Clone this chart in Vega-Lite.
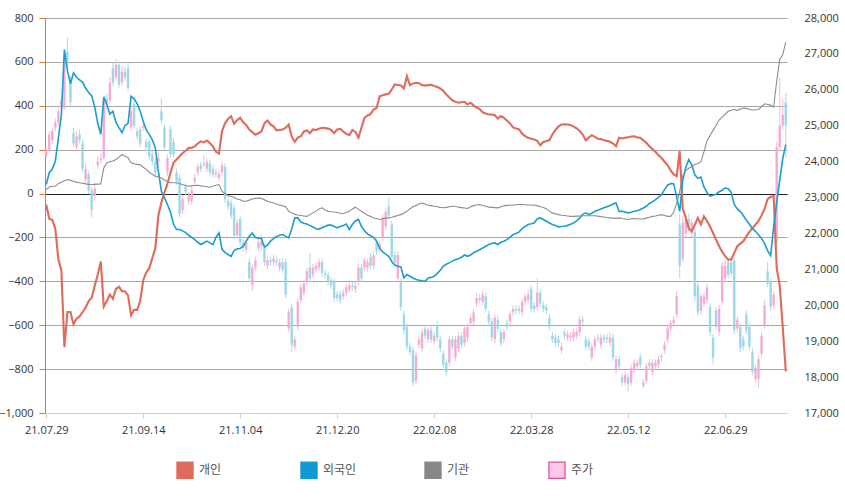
{
  "$schema": "https://vega.github.io/schema/vega-lite/v6.json",
  "width": 742,
  "height": 395,
  "autosize": {"type": "none"},
  "padding": {"left": 45, "top": 18, "right": 58, "bottom": 88},
  "background": "white",
  "config": {
    "view": {"stroke": null},
    "font": "Open Sans",
    "axis": {"labelFont": "Open Sans", "labelFontSize": 11, "labelColor": "#333"},
    "axisRight": {"labelOverlap": false}
  },
  "data": {"values": [
    {"d":"21.07.29","개인":-50,"외국인":41,"기관":18,"o":24150,"h":24400,"l":24100,"주가":24300},
    {"d":"21.07.30","개인":-115,"외국인":95,"기관":30,"o":24300,"h":24850,"l":24250,"주가":24750},
    {"d":"21.08.02","개인":-120,"외국인":112,"기관":33,"o":24600,"h":24950,"l":24500,"주가":24850},
    {"d":"21.08.03","개인":-160,"외국인":147,"기관":33,"o":24950,"h":25200,"l":24850,"주가":25100},
    {"d":"21.08.04","개인":-300,"외국인":250,"기관":45,"o":25100,"h":25500,"l":25000,"주가":25400},
    {"d":"21.08.05","개인":-350,"외국인":360,"기관":52,"o":25500,"h":25800,"l":25400,"주가":25700},
    {"d":"21.08.06","개인":-700,"외국인":656,"기관":58,"o":25500,"h":27100,"l":25450,"주가":26950},
    {"d":"21.08.09","개인":-540,"외국인":560,"기관":64,"o":27050,"h":27450,"l":26650,"주가":26800},
    {"d":"21.08.10","개인":-540,"외국인":500,"기관":60,"o":26250,"h":26400,"l":25550,"주가":25650},
    {"d":"21.08.11","개인":-595,"외국인":550,"기관":56,"o":24800,"h":24950,"l":24400,"주가":24500},
    {"d":"21.08.12","개인":-570,"외국인":530,"기관":52,"o":24400,"h":24850,"l":24300,"주가":24700},
    {"d":"21.08.13","개인":-560,"외국인":518,"기관":49,"o":24750,"h":24900,"l":24500,"주가":24600},
    {"d":"21.08.17","개인":-540,"외국인":508,"기관":47,"o":24500,"h":24600,"l":23700,"주가":23800},
    {"d":"21.08.18","개인":-520,"외국인":480,"기관":44,"o":23500,"h":23950,"l":23400,"주가":23800},
    {"d":"21.08.19","개인":-490,"외국인":460,"기관":42,"o":23650,"h":23750,"l":23100,"주가":23200},
    {"d":"21.08.20","개인":-475,"외국인":445,"기관":41,"o":23200,"h":23300,"l":22450,"주가":22650},
    {"d":"21.08.23","개인":-420,"외국인":395,"기관":42,"o":23050,"h":23400,"l":22900,"주가":23250},
    {"d":"21.08.24","개인":-370,"외국인":320,"기관":43,"o":23900,"h":24150,"l":23800,"주가":24000},
    {"d":"21.08.25","개인":-310,"외국인":270,"기관":44,"o":24050,"h":24250,"l":23950,"주가":24100},
    {"d":"21.08.26","개인":-515,"외국인":440,"기관":117,"o":24100,"h":25850,"l":24050,"주가":25700},
    {"d":"21.08.27","개인":-490,"외국인":406,"기관":140,"o":25750,"h":25900,"l":25450,"주가":25600},
    {"d":"21.08.30","개인":-460,"외국인":362,"기관":145,"o":25700,"h":26350,"l":25600,"주가":26200},
    {"d":"21.08.31","개인":-480,"외국인":375,"기관":148,"o":26600,"h":26750,"l":26100,"주가":26200},
    {"d":"21.09.01","개인":-435,"외국인":325,"기관":155,"o":26350,"h":26850,"l":26250,"주가":26700},
    {"d":"21.09.02","개인":-425,"외국인":300,"기관":165,"o":26700,"h":26800,"l":26050,"주가":26150},
    {"d":"21.09.03","개인":-445,"외국인":277,"기관":178,"o":26200,"h":26650,"l":26100,"주가":26500},
    {"d":"21.09.06","개인":-445,"외국인":310,"기관":170,"o":26500,"h":26650,"l":26250,"주가":26350},
    {"d":"21.09.07","개인":-465,"외국인":320,"기관":163,"o":26600,"h":26750,"l":25950,"주가":26050},
    {"d":"21.09.08","개인":-555,"외국인":443,"기관":140,"o":24950,"h":25500,"l":24850,"주가":25400},
    {"d":"21.09.09","개인":-530,"외국인":432,"기관":136,"o":25600,"h":25700,"l":24900,"주가":25000},
    {"d":"21.09.10","개인":-530,"외국인":410,"기관":133,"o":24850,"h":24950,"l":24600,"주가":24700},
    {"d":"21.09.13","개인":-490,"외국인":375,"기관":132,"o":24900,"h":25000,"l":24400,"주가":24500},
    {"d":"21.09.14","개인":-395,"외국인":330,"기관":120,"o":24950,"h":25150,"l":24850,"주가":25000},
    {"d":"21.09.15","개인":-360,"외국인":290,"기관":110,"o":24550,"h":24650,"l":24300,"주가":24400},
    {"d":"21.09.16","개인":-340,"외국인":270,"기관":97,"o":24550,"h":24650,"l":24050,"주가":24150},
    {"d":"21.09.17","개인":-295,"외국인":245,"기관":88,"o":24200,"h":24300,"l":23900,"주가":24000},
    {"d":"21.09.23","개인":-250,"외국인":208,"기관":79,"o":24000,"h":24100,"l":23600,"주가":23700},
    {"d":"21.09.24","개인":-100,"외국인":102,"기관":75,"o":24000,"h":24250,"l":23900,"주가":24100},
    {"d":"21.09.27","개인":-40,"외국인":10,"기관":71,"o":25400,"h":25750,"l":25050,"주가":25150},
    {"d":"21.09.28","개인":5,"외국인":-18,"기관":62,"o":24950,"h":25050,"l":24300,"주가":24400},
    {"d":"21.09.29","개인":45,"외국인":-50,"기관":55,"o":23700,"h":24200,"l":23600,"주가":24100},
    {"d":"21.09.30","개인":95,"외국인":-85,"기관":49,"o":24900,"h":25000,"l":24100,"주가":24200},
    {"d":"21.10.01","개인":140,"외국인":-140,"기관":49,"o":24550,"h":24650,"l":24100,"주가":24200},
    {"d":"21.10.05","개인":155,"외국인":-164,"기관":49,"o":23700,"h":23800,"l":23350,"주가":23450},
    {"d":"21.10.06","개인":170,"외국인":-164,"기관":45,"o":23550,"h":23650,"l":22450,"주가":22550},
    {"d":"21.10.07","개인":185,"외국인":-170,"기관":41,"o":22650,"h":23050,"l":22550,"주가":22950},
    {"d":"21.10.08","개인":195,"외국인":-178,"기관":36,"o":23300,"h":23400,"l":23050,"주가":23150},
    {"d":"21.10.12","개인":208,"외국인":-190,"기관":33,"o":22900,"h":23150,"l":22800,"주가":23050},
    {"d":"21.10.13","개인":208,"외국인":-200,"기관":35,"o":22900,"h":23300,"l":22800,"주가":23200},
    {"d":"21.10.14","개인":215,"외국인":-210,"기관":37,"o":23450,"h":23650,"l":23350,"주가":23550},
    {"d":"21.10.15","개인":228,"외국인":-222,"기관":38,"o":23700,"h":23950,"l":23600,"주가":23850},
    {"d":"21.10.18","개인":238,"외국인":-232,"기관":35,"o":23900,"h":24000,"l":23700,"주가":23800},
    {"d":"21.10.19","개인":233,"외국인":-225,"기관":33,"o":23950,"h":24200,"l":23850,"주가":23900},
    {"d":"21.10.20","개인":242,"외국인":-217,"기관":31,"o":23800,"h":24100,"l":23700,"주가":24000},
    {"d":"21.10.21","개인":230,"외국인":-225,"기관":29,"o":23950,"h":24050,"l":23600,"주가":23700},
    {"d":"21.10.22","개인":215,"외국인":-233,"기관":33,"o":23800,"h":23900,"l":23550,"주가":23650},
    {"d":"21.10.25","개인":190,"외국인":-200,"기관":38,"o":23650,"h":23800,"l":23550,"주가":23700},
    {"d":"21.10.26","개인":182,"외국인":-179,"기관":41,"o":23550,"h":23750,"l":23450,"주가":23650},
    {"d":"21.10.27","개인":284,"외국인":-255,"기관":10,"o":23700,"h":24000,"l":23600,"주가":23900},
    {"d":"21.10.28","개인":320,"외국인":-268,"기관":0,"o":23850,"h":23950,"l":22850,"주가":22950},
    {"d":"21.10.29","개인":340,"외국인":-278,"기관":-10,"o":22900,"h":23000,"l":22650,"주가":22750},
    {"d":"21.11.01","개인":352,"외국인":-286,"기관":-12,"o":22850,"h":22950,"l":22400,"주가":22500},
    {"d":"21.11.02","개인":318,"외국인":-260,"기관":-18,"o":22700,"h":22800,"l":21850,"주가":21950},
    {"d":"21.11.03","개인":335,"외국인":-252,"기관":-25,"o":21950,"h":22400,"l":21850,"주가":22300},
    {"d":"21.11.04","개인":345,"외국인":-250,"기관":-28,"o":22400,"h":22500,"l":21650,"주가":21750},
    {"d":"21.11.05","개인":325,"외국인":-240,"기관":-35,"o":21750,"h":21850,"l":21500,"주가":21600},
    {"d":"21.11.08","개인":312,"외국인":-217,"기관":-35,"o":21550,"h":21850,"l":21450,"주가":21750},
    {"d":"21.11.09","개인":292,"외국인":-195,"기관":-30,"o":21200,"h":21300,"l":20650,"주가":20750},
    {"d":"21.11.10","개인":280,"외국인":-180,"기관":-25,"o":20550,"h":21150,"l":20400,"주가":21050},
    {"d":"21.11.11","개인":268,"외국인":-200,"기관":-22,"o":21050,"h":21350,"l":20950,"주가":21250},
    {"d":"21.11.12","개인":275,"외국인":-203,"기관":-20,"o":21600,"h":21850,"l":21500,"주가":21750},
    {"d":"21.11.15","개인":283,"외국인":-205,"기관":-22,"o":21650,"h":21950,"l":21550,"주가":21800},
    {"d":"21.11.16","개인":320,"외국인":-245,"기관":-28,"o":21600,"h":21700,"l":21100,"주가":21200},
    {"d":"21.11.17","개인":333,"외국인":-235,"기관":-35,"o":21100,"h":21350,"l":21000,"주가":21250},
    {"d":"21.11.18","개인":315,"외국인":-217,"기관":-40,"o":21250,"h":21350,"l":21100,"주가":21200},
    {"d":"21.11.19","개인":305,"외국인":-205,"기관":-43,"o":21200,"h":21400,"l":21100,"주가":21300},
    {"d":"21.11.22","개인":288,"외국인":-195,"기관":-48,"o":21250,"h":21350,"l":21100,"주가":21200},
    {"d":"21.11.23","개인":290,"외국인":-190,"기관":-52,"o":21050,"h":21300,"l":20950,"주가":21200},
    {"d":"21.11.24","개인":292,"외국인":-187,"기관":-56,"o":21200,"h":21300,"l":20900,"주가":21000},
    {"d":"21.11.25","개인":300,"외국인":-195,"기관":-60,"o":21200,"h":21300,"l":20200,"주가":20300},
    {"d":"21.11.26","개인":314,"외국인":-202,"기관":-81,"o":19350,"h":19900,"l":19250,"주가":19800},
    {"d":"21.11.29","개인":260,"외국인":-160,"기관":-88,"o":19950,"h":20050,"l":18700,"주가":18900},
    {"d":"21.11.30","개인":236,"외국인":-111,"기관":-95,"o":18850,"h":19150,"l":18750,"주가":19050},
    {"d":"21.12.01","개인":255,"외국인":-111,"기관":-98,"o":19400,"h":20200,"l":19300,"주가":20100},
    {"d":"21.12.02","개인":261,"외국인":-130,"기관":-100,"o":20150,"h":20600,"l":20050,"주가":20500},
    {"d":"21.12.03","개인":282,"외국인":-135,"기관":-102,"o":20350,"h":20700,"l":20250,"주가":20600},
    {"d":"21.12.06","개인":288,"외국인":-139,"기관":-104,"o":20650,"h":21050,"l":20550,"주가":20950},
    {"d":"21.12.07","개인":275,"외국인":-146,"기관":-96,"o":21050,"h":21450,"l":20650,"주가":20750},
    {"d":"21.12.08","개인":292,"외국인":-152,"기관":-88,"o":20850,"h":21150,"l":20750,"주가":21050},
    {"d":"21.12.09","개인":290,"외국인":-160,"기관":-80,"o":21000,"h":21200,"l":20900,"주가":21100},
    {"d":"21.12.10","개인":295,"외국인":-162,"기관":-70,"o":21050,"h":21300,"l":20950,"주가":21200},
    {"d":"21.12.13","개인":300,"외국인":-156,"기관":-65,"o":21200,"h":21300,"l":20800,"주가":20900},
    {"d":"21.12.14","개인":298,"외국인":-150,"기관":-75,"o":20900,"h":21000,"l":20750,"주가":20850},
    {"d":"21.12.15","개인":296,"외국인":-144,"기관":-81,"o":20850,"h":20950,"l":20550,"주가":20650},
    {"d":"21.12.16","개인":290,"외국인":-144,"기관":-83,"o":20700,"h":20800,"l":20450,"주가":20550},
    {"d":"21.12.17","개인":275,"외국인":-150,"기관":-84,"o":20650,"h":20750,"l":20100,"주가":20200},
    {"d":"21.12.20","개인":292,"외국인":-156,"기관":-86,"o":20300,"h":20400,"l":20100,"주가":20200},
    {"d":"21.12.21","개인":295,"외국인":-150,"기관":-90,"o":20300,"h":20400,"l":20050,"주가":20150},
    {"d":"21.12.22","개인":283,"외국인":-146,"기관":-91,"o":20250,"h":20450,"l":20150,"주가":20350},
    {"d":"21.12.23","개인":272,"외국인":-139,"기관":-86,"o":20350,"h":20600,"l":20250,"주가":20500},
    {"d":"21.12.24","개인":266,"외국인":-164,"기관":-81,"o":20450,"h":20650,"l":20350,"주가":20550},
    {"d":"21.12.27","개인":290,"외국인":-141,"기관":-70,"o":20550,"h":20650,"l":20400,"주가":20500},
    {"d":"21.12.28","개인":281,"외국인":-125,"기관":-62,"o":20450,"h":20650,"l":20350,"주가":20550},
    {"d":"21.12.29","개인":254,"외국인":-118,"기관":-72,"o":20650,"h":21150,"l":20550,"주가":21050},
    {"d":"21.12.30","개인":300,"외국인":-149,"기관":-81,"o":21050,"h":21150,"l":20650,"주가":20750},
    {"d":"22.01.03","개인":345,"외국인":-170,"기관":-90,"o":21050,"h":21350,"l":20950,"주가":21250},
    {"d":"22.01.04","개인":356,"외국인":-184,"기관":-99,"o":21050,"h":21300,"l":20950,"주가":21200},
    {"d":"22.01.05","개인":362,"외국인":-192,"기관":-104,"o":21350,"h":21450,"l":21000,"주가":21100},
    {"d":"22.01.06","개인":383,"외국인":-200,"기관":-111,"o":21100,"h":21500,"l":21000,"주가":21400},
    {"d":"22.01.07","개인":390,"외국인":-217,"기관":-114,"o":21750,"h":21850,"l":21400,"주가":21500},
    {"d":"22.01.10","개인":443,"외국인":-248,"기관":-118,"o":21550,"h":21800,"l":21450,"주가":21700},
    {"d":"22.01.11","개인":448,"외국인":-266,"기관":-115,"o":21900,"h":22550,"l":21800,"주가":22450},
    {"d":"22.01.12","개인":452,"외국인":-276,"기관":-112,"o":22200,"h":22700,"l":22100,"주가":22600},
    {"d":"22.01.13","개인":455,"외국인":-286,"기관":-111,"o":22750,"h":23000,"l":22400,"주가":22500},
    {"d":"22.01.14","개인":474,"외국인":-310,"기관":-108,"o":22250,"h":22350,"l":21250,"주가":21350},
    {"d":"22.01.17","개인":497,"외국인":-326,"기관":-104,"o":21400,"h":21500,"l":21100,"주가":21200},
    {"d":"22.01.18","개인":495,"외국인":-331,"기관":-100,"o":20750,"h":21500,"l":20650,"주가":21400},
    {"d":"22.01.19","개인":493,"외국인":-334,"기관":-96,"o":20650,"h":20750,"l":19850,"주가":19950},
    {"d":"22.01.20","개인":479,"외국인":-384,"기관":-90,"o":19750,"h":19850,"l":19200,"주가":19300},
    {"d":"22.01.21","개인":535,"외국인":-369,"기관":-81,"o":19400,"h":19500,"l":18750,"주가":18850},
    {"d":"22.01.24","개인":494,"외국인":-377,"기관":-70,"o":18850,"h":18950,"l":18600,"주가":18700},
    {"d":"22.01.25","개인":502,"외국인":-385,"기관":-60,"o":18750,"h":18850,"l":17750,"주가":17850},
    {"d":"22.01.26","개인":505,"외국인":-392,"기관":-55,"o":17900,"h":18700,"l":17800,"주가":18600},
    {"d":"22.01.27","개인":503,"외국인":-395,"기관":-48,"o":18900,"h":19150,"l":18800,"주가":19050},
    {"d":"22.01.28","개인":494,"외국인":-398,"기관":-43,"o":18800,"h":19350,"l":18700,"주가":19250},
    {"d":"22.02.03","개인":492,"외국인":-400,"기관":-48,"o":19350,"h":19450,"l":19050,"주가":19150},
    {"d":"22.02.04","개인":494,"외국인":-385,"기관":-53,"o":19050,"h":19400,"l":18950,"주가":19300},
    {"d":"22.02.07","개인":496,"외국인":-382,"기관":-55,"o":19300,"h":19400,"l":18950,"주가":19050},
    {"d":"22.02.08","개인":490,"외국인":-377,"기관":-58,"o":19000,"h":19250,"l":18900,"주가":19150},
    {"d":"22.02.09","개인":486,"외국인":-365,"기관":-60,"o":19450,"h":19550,"l":19000,"주가":19100},
    {"d":"22.02.10","개인":479,"외국인":-350,"기관":-63,"o":19050,"h":19150,"l":18700,"주가":18800},
    {"d":"22.02.11","개인":468,"외국인":-331,"기관":-65,"o":18650,"h":18750,"l":18250,"주가":18350},
    {"d":"22.02.14","개인":451,"외국인":-322,"기관":-63,"o":18400,"h":18500,"l":18050,"주가":18150},
    {"d":"22.02.15","개인":438,"외국인":-316,"기관":-60,"o":18400,"h":19150,"l":18300,"주가":19050},
    {"d":"22.02.16","개인":425,"외국인":-308,"기관":-58,"o":19050,"h":19150,"l":18750,"주가":18850},
    {"d":"22.02.17","개인":418,"외국인":-301,"기관":-58,"o":18550,"h":19150,"l":18450,"주가":19050},
    {"d":"22.02.18","개인":414,"외국인":-297,"기관":-62,"o":18800,"h":19250,"l":18700,"주가":19150},
    {"d":"22.02.21","개인":416,"외국인":-290,"기관":-64,"o":19150,"h":19250,"l":18800,"주가":18900},
    {"d":"22.02.22","개인":418,"외국인":-280,"기관":-66,"o":18950,"h":19450,"l":18850,"주가":19350},
    {"d":"22.02.23","개인":406,"외국인":-286,"기관":-68,"o":19100,"h":19500,"l":19000,"주가":19400},
    {"d":"22.02.24","개인":414,"외국인":-280,"기관":-60,"o":19500,"h":19750,"l":19400,"주가":19650},
    {"d":"22.02.25","개인":402,"외국인":-270,"기관":-55,"o":19550,"h":19900,"l":19450,"주가":19800},
    {"d":"22.02.28","개인":392,"외국인":-263,"기관":-52,"o":20050,"h":20350,"l":19950,"주가":20200},
    {"d":"22.03.02","개인":385,"외국인":-256,"기관":-50,"o":20200,"h":20300,"l":20050,"주가":20150},
    {"d":"22.03.03","개인":370,"외국인":-248,"기관":-54,"o":20100,"h":20400,"l":20000,"주가":20300},
    {"d":"22.03.04","개인":365,"외국인":-240,"기관":-58,"o":20250,"h":20350,"l":19800,"주가":19900},
    {"d":"22.03.07","개인":360,"외국인":-232,"기관":-62,"o":19750,"h":19850,"l":19450,"주가":19550},
    {"d":"22.03.08","개인":360,"외국인":-228,"기관":-63,"o":19550,"h":19650,"l":19000,"주가":19100},
    {"d":"22.03.10","개인":357,"외국인":-225,"기관":-64,"o":19050,"h":19750,"l":18950,"주가":19650},
    {"d":"22.03.11","개인":342,"외국인":-232,"기관":-65,"o":19600,"h":19700,"l":19250,"주가":19350},
    {"d":"22.03.14","개인":353,"외국인":-222,"기관":-60,"o":19250,"h":19350,"l":18850,"주가":18950},
    {"d":"22.03.15","개인":345,"외국인":-217,"기관":-56,"o":19050,"h":19350,"l":18950,"주가":19250},
    {"d":"22.03.16","개인":333,"외국인":-210,"기관":-54,"o":19500,"h":19600,"l":19300,"주가":19400},
    {"d":"22.03.17","개인":320,"외국인":-200,"기관":-53,"o":19550,"h":19850,"l":19450,"주가":19750},
    {"d":"22.03.18","개인":302,"외국인":-187,"기관":-52,"o":19800,"h":20000,"l":19700,"주가":19900},
    {"d":"22.03.21","개인":296,"외국인":-182,"기관":-51,"o":19900,"h":20000,"l":19750,"주가":19850},
    {"d":"22.03.22","개인":292,"외국인":-175,"기관":-50,"o":19900,"h":20000,"l":19750,"주가":19850},
    {"d":"22.03.23","개인":273,"외국인":-160,"기관":-50,"o":19800,"h":20200,"l":19700,"주가":20100},
    {"d":"22.03.24","개인":262,"외국인":-150,"기관":-51,"o":20100,"h":20350,"l":20000,"주가":20250},
    {"d":"22.03.25","개인":254,"외국인":-141,"기관":-52,"o":20150,"h":20400,"l":20050,"주가":20300},
    {"d":"22.03.28","개인":250,"외국인":-138,"기관":-52,"o":20450,"h":20550,"l":19800,"주가":19900},
    {"d":"22.03.29","개인":246,"외국인":-134,"기관":-53,"o":20000,"h":20100,"l":19800,"주가":19900},
    {"d":"22.03.30","개인":240,"외국인":-115,"기관":-55,"o":19950,"h":20750,"l":19850,"주가":20350},
    {"d":"22.03.31","개인":220,"외국인":-111,"기관":-60,"o":20350,"h":20450,"l":19950,"주가":20050},
    {"d":"22.04.01","개인":235,"외국인":-118,"기관":-62,"o":20000,"h":20100,"l":19800,"주가":19900},
    {"d":"22.04.04","개인":240,"외국인":-126,"기관":-70,"o":19950,"h":20050,"l":19750,"주가":19850},
    {"d":"22.04.05","개인":243,"외국인":-134,"기관":-80,"o":19650,"h":19750,"l":19300,"주가":19400},
    {"d":"22.04.06","개인":269,"외국인":-141,"기관":-88,"o":19150,"h":19250,"l":18950,"주가":19050},
    {"d":"22.04.07","개인":290,"외국인":-146,"기관":-92,"o":19100,"h":19200,"l":18850,"주가":18950},
    {"d":"22.04.08","개인":305,"외국인":-152,"기관":-96,"o":19050,"h":19150,"l":18850,"주가":18950},
    {"d":"22.04.11","개인":315,"외국인":-150,"기관":-99,"o":18750,"h":18950,"l":18650,"주가":18850},
    {"d":"22.04.12","개인":316,"외국인":-149,"기관":-100,"o":19250,"h":19350,"l":19050,"주가":19150},
    {"d":"22.04.13","개인":315,"외국인":-145,"기관":-102,"o":19100,"h":19300,"l":19000,"주가":19200},
    {"d":"22.04.14","개인":312,"외국인":-140,"기관":-104,"o":19100,"h":19250,"l":19000,"주가":19150},
    {"d":"22.04.15","개인":305,"외국인":-134,"기관":-104,"o":19100,"h":19350,"l":19000,"주가":19250},
    {"d":"22.04.18","개인":297,"외국인":-125,"기관":-103,"o":19150,"h":19350,"l":19050,"주가":19250},
    {"d":"22.04.19","개인":285,"외국인":-111,"기관":-102,"o":19250,"h":19700,"l":19150,"주가":19600},
    {"d":"22.04.20","개인":269,"외국인":-95,"기관":-101,"o":19600,"h":19700,"l":19450,"주가":19550},
    {"d":"22.04.21","개인":243,"외국인":-88,"기관":-101,"o":19050,"h":19150,"l":18750,"주가":18850},
    {"d":"22.04.22","개인":255,"외국인":-96,"기관":-101,"o":19000,"h":19100,"l":18750,"주가":18850},
    {"d":"22.04.25","개인":266,"외국인":-90,"기관":-101,"o":18550,"h":18950,"l":18450,"주가":18850},
    {"d":"22.04.26","개인":258,"외국인":-81,"기관":-101,"o":18850,"h":19150,"l":18750,"주가":19050},
    {"d":"22.04.27","개인":250,"외국인":-76,"기관":-103,"o":19100,"h":19200,"l":18950,"주가":19050},
    {"d":"22.04.28","개인":248,"외국인":-70,"기관":-105,"o":18900,"h":19200,"l":18800,"주가":19100},
    {"d":"22.04.29","개인":243,"외국인":-65,"기관":-107,"o":19100,"h":19200,"l":18950,"주가":19050},
    {"d":"22.05.02","개인":240,"외국인":-60,"기관":-109,"o":19100,"h":19200,"l":18950,"주가":19050},
    {"d":"22.05.03","개인":236,"외국인":-55,"기관":-111,"o":18950,"h":19250,"l":18850,"주가":19100},
    {"d":"22.05.04","개인":228,"외국인":-48,"기관":-112,"o":19100,"h":19200,"l":18450,"주가":18550},
    {"d":"22.05.06","개인":216,"외국인":-43,"기관":-113,"o":18200,"h":18600,"l":18100,"주가":18500},
    {"d":"22.05.09","개인":254,"외국인":-81,"기관":-111,"o":18500,"h":18600,"l":18200,"주가":18300},
    {"d":"22.05.10","개인":251,"외국인":-81,"기관":-114,"o":18000,"h":18100,"l":17750,"주가":17850},
    {"d":"22.05.11","개인":254,"외국인":-84,"기관":-116,"o":17850,"h":18150,"l":17750,"주가":18050},
    {"d":"22.05.12","개인":257,"외국인":-88,"기관":-118,"o":18000,"h":18100,"l":17600,"주가":17800},
    {"d":"22.05.13","개인":260,"외국인":-85,"기관":-115,"o":17850,"h":18350,"l":17750,"주가":18250},
    {"d":"22.05.16","개인":261,"외국인":-81,"기관":-114,"o":18200,"h":18500,"l":18100,"주가":18400},
    {"d":"22.05.17","개인":256,"외국인":-78,"기관":-115,"o":18300,"h":18500,"l":18200,"주가":18400},
    {"d":"22.05.18","개인":254,"외국인":-73,"기관":-116,"o":18550,"h":18650,"l":18250,"주가":18350},
    {"d":"22.05.19","개인":243,"외국인":-66,"기관":-116,"o":17750,"h":17950,"l":17700,"주가":17850},
    {"d":"22.05.20","개인":231,"외국인":-58,"기관":-112,"o":17900,"h":18400,"l":17800,"주가":18300},
    {"d":"22.05.23","개인":216,"외국인":-45,"기관":-108,"o":18400,"h":18500,"l":18200,"주가":18300},
    {"d":"22.05.24","개인":203,"외국인":-38,"기관":-104,"o":18150,"h":18500,"l":18050,"주가":18400},
    {"d":"22.05.25","개인":190,"외국인":-28,"기관":-102,"o":18300,"h":18500,"l":18200,"주가":18400},
    {"d":"22.05.26","개인":175,"외국인":-18,"기관":-99,"o":18350,"h":18600,"l":18250,"주가":18500},
    {"d":"22.05.27","개인":162,"외국인":-5,"기관":-96,"o":18600,"h":18650,"l":18450,"주가":18550},
    {"d":"22.05.30","개인":145,"외국인":18,"기관":-100,"o":18750,"h":19000,"l":18650,"주가":18900},
    {"d":"22.05.31","개인":130,"외국인":38,"기관":-104,"o":19050,"h":19450,"l":18950,"주가":19350},
    {"d":"22.06.02","개인":105,"외국인":46,"기관":-104,"o":19350,"h":19600,"l":19250,"주가":19500},
    {"d":"22.06.03","개인":88,"외국인":45,"기관":-85,"o":19500,"h":19700,"l":19400,"주가":19600},
    {"d":"22.06.07","개인":79,"외국인":-15,"기관":-45,"o":19750,"h":20400,"l":19650,"주가":20250},
    {"d":"22.06.08","개인":193,"외국인":-81,"기관":10,"o":22250,"h":22550,"l":20750,"주가":21100},
    {"d":"22.06.09","개인":-70,"외국인":60,"기관":80,"o":21300,"h":22500,"l":21200,"주가":22300},
    {"d":"22.06.10","개인":-110,"외국인":120,"기관":105,"o":22000,"h":22550,"l":21900,"주가":22400},
    {"d":"22.06.13","개인":-160,"외국인":155,"기관":115,"o":22400,"h":22550,"l":22050,"주가":22150},
    {"d":"22.06.14","개인":-172,"외국인":130,"기관":122,"o":22000,"h":22400,"l":21900,"주가":22300},
    {"d":"22.06.15","개인":-142,"외국인":85,"기관":132,"o":22050,"h":22150,"l":20100,"주가":20250},
    {"d":"22.06.16","개인":-111,"외국인":70,"기관":137,"o":20550,"h":20650,"l":19700,"주가":19800},
    {"d":"22.06.17","개인":-140,"외국인":75,"기관":145,"o":19850,"h":20350,"l":19750,"주가":20250},
    {"d":"22.06.20","개인":-104,"외국인":30,"기관":190,"o":20050,"h":20350,"l":19950,"주가":20250},
    {"d":"22.06.21","개인":-125,"외국인":5,"기관":240,"o":20150,"h":20600,"l":20050,"주가":20500},
    {"d":"22.06.22","개인":-150,"외국인":-12,"기관":265,"o":19950,"h":20050,"l":19150,"주가":19250},
    {"d":"22.06.23","개인":-180,"외국인":-8,"기관":288,"o":19100,"h":19200,"l":18350,"주가":18550},
    {"d":"22.06.24","개인":-210,"외국인":-3,"기관":310,"o":19850,"h":19950,"l":19300,"주가":19400},
    {"d":"22.06.27","개인":-240,"외국인":8,"기관":335,"o":19250,"h":20000,"l":19150,"주가":19900},
    {"d":"22.06.28","개인":-265,"외국인":15,"기관":348,"o":20100,"h":21200,"l":20000,"주가":21100},
    {"d":"22.06.29","개인":-285,"외국인":25,"기관":362,"o":20750,"h":21250,"l":20650,"주가":21100},
    {"d":"22.06.30","개인":-301,"외국인":22,"기관":375,"o":21200,"h":21300,"l":20750,"주가":20850},
    {"d":"22.07.01","개인":-301,"외국인":5,"기관":380,"o":21200,"h":21300,"l":20800,"주가":20900},
    {"d":"22.07.04","개인":-270,"외국인":-50,"기관":383,"o":21250,"h":21350,"l":19200,"주가":19300},
    {"d":"22.07.05","개인":-240,"외국인":-70,"기관":379,"o":19350,"h":19700,"l":19250,"주가":19600},
    {"d":"22.07.06","개인":-228,"외국인":-82,"기관":384,"o":19400,"h":19500,"l":18700,"주가":18800},
    {"d":"22.07.07","개인":-217,"외국인":-100,"기관":390,"o":19050,"h":19150,"l":18750,"주가":18850},
    {"d":"22.07.08","개인":-195,"외국인":-122,"기관":388,"o":19750,"h":19850,"l":19200,"주가":19300},
    {"d":"22.07.11","개인":-175,"외국인":-140,"기관":383,"o":19400,"h":19500,"l":18750,"주가":18850},
    {"d":"22.07.12","개인":-158,"외국인":-160,"기관":381,"o":18700,"h":18800,"l":18050,"주가":18150},
    {"d":"22.07.13","개인":-142,"외국인":-172,"기관":382,"o":17950,"h":18350,"l":17850,"주가":18250},
    {"d":"22.07.14","개인":-125,"외국인":-188,"기관":383,"o":17950,"h":18600,"l":17700,"주가":18500},
    {"d":"22.07.15","개인":-100,"외국인":-205,"기관":395,"o":18650,"h":19250,"l":18550,"주가":19150},
    {"d":"22.07.18","개인":-70,"외국인":-228,"기관":409,"o":19450,"h":20150,"l":19350,"주가":20000},
    {"d":"22.07.19","개인":-25,"외국인":-260,"기관":406,"o":20950,"h":21200,"l":20500,"주가":20600},
    {"d":"22.07.20","개인":-15,"외국인":-283,"기관":403,"o":20650,"h":20750,"l":19850,"주가":19950},
    {"d":"22.07.21","개인":-12,"외국인":-150,"기관":394,"o":20000,"h":20400,"l":19900,"주가":20300},
    {"d":"22.07.22","개인":-339,"외국인":-40,"기관":512,"o":21750,"h":24550,"l":21650,"주가":24400},
    {"d":"22.07.25","개인":-420,"외국인":60,"기관":611,"o":24400,"h":26350,"l":24300,"주가":25000},
    {"d":"22.07.26","개인":-610,"외국인":160,"기관":634,"o":25000,"h":25750,"l":24900,"주가":25300},
    {"d":"22.07.27","개인":-810,"외국인":223,"기관":690,"o":25650,"h":25900,"l":24100,"주가":25000}
  ]},
  "encoding": {
    "x": {
      "field": "d",
      "type": "ordinal",
      "sort": "ascending",
      "scale": {"type": "point", "padding": 0.4},
      "axis": {
        "title": null,
        "values": ["21.07.29","21.09.14","21.11.04","21.12.20","22.02.08","22.03.28","22.05.12","22.06.29"],
        "labelAngle": 0,
        "grid": false,
        "domainColor": "#d0d0d0",
        "tickColor": "#d0d0d0",
        "tickSize": 5,
        "labelPadding": 6
      }
    }
  },
  "layer": [
    {
      "layer": [
        {
          "mark": {"type": "rule", "strokeWidth": 1},
          "encoding": {
            "y": {
              "field": "l",
              "type": "quantitative",
              "title": null,
              "scale": {"domain": [17000, 28000], "nice": false, "zero": false},
              "axis": {
                "orient": "right",
                "values": [17000,18000,19000,20000,21000,22000,23000,24000,25000,26000,27000,28000],
                "format": ",d",
                "grid": false,
                "domain": false,
                "ticks": false,
                "labelOverlap": false,
                "labelPadding": 17
              }
            },
            "y2": {"field": "h"},
            "color": {"condition": {"test": "datum['주가'] >= datum.o", "value": "#f7b9da"}, "value": "#a9dbea"}
          }
        },
        {
          "mark": {"type": "bar", "size": 2.4},
          "encoding": {
            "y": {
              "field": "o",
              "type": "quantitative",
              "title": null,
              "axis": {
                "orient": "right",
                "values": [17000,18000,19000,20000,21000,22000,23000,24000,25000,26000,27000,28000],
                "format": ",d",
                "grid": false,
                "domain": false,
                "ticks": false,
                "labelOverlap": false,
                "labelPadding": 17
              }
            },
            "y2": {"field": "주가"},
            "color": {"condition": {"test": "datum['주가'] >= datum.o", "value": "#f5acd3"}, "value": "#9fd6e8"}
          }
        }
      ]
    },
    {
      "transform": [{"fold": ["개인", "외국인", "기관"], "as": ["s", "v"]}],
      "mark": {"type": "line"},
      "encoding": {
        "y": {
          "field": "v",
          "type": "quantitative",
          "title": null,
          "scale": {"domain": [-1000, 800], "nice": false},
          "axis": {
            "orient": "left",
            "values": [-1000,-800,-600,-400,-200,0,200,400,600,800],
            "format": ",d",
            "grid": true,
            "labelOverlap": false,
            "gridColor": {"condition": {"test": "datum.value === 0", "value": "#222222"}, "value": "#a8a8a8"},
            "domainColor": "#e8761c",
            "tickColor": "#e8761c",
            "tickSize": 6,
            "labelPadding": 6
          }
        },
        "color": {
          "field": "s",
          "type": "nominal",
          "scale": {"domain": ["개인", "외국인", "기관"], "range": ["#de6b5b", "#1a9dd0", "#8c8c8c"]},
          "legend": null
        },
        "strokeWidth": {
          "field": "s",
          "type": "nominal",
          "scale": {"domain": ["개인", "외국인", "기관"], "range": [2.1, 1.1, 1.1]},
          "legend": null
        }
      }
    },
    {
      "transform": [{"fold": ["개인", "외국인", "기관", "주가"], "as": ["s", "v"]}],
      "mark": {"type": "square", "filled": true, "opacity": 0},
      "encoding": {
        "fill": {
          "field": "s",
          "type": "nominal",
          "scale": {"domain": ["개인", "외국인", "기관", "주가"], "range": ["#de6b5b", "#0f9ad6", "#888888", "#ffc6e8"]},
          "legend": {
            "title": null,
            "orient": "none",
            "legendX": 131,
            "legendY": 443,
            "direction": "horizontal",
            "columns": 4,
            "gridAlign": "all",
            "columnPadding": 65,
            "symbolType": "square",
            "symbolSize": 260,
            "symbolOpacity": 1,
            "symbolStrokeWidth": 1.2,
            "labelFont": "Noto Sans CJK KR",
            "labelFontSize": 12,
            "labelColor": "#555555",
            "labelOffset": 5
          }
        },
        "stroke": {
          "field": "s",
          "type": "nominal",
          "scale": {"domain": ["개인", "외국인", "기관", "주가"], "range": ["#de6b5b", "#0f9ad6", "#888888", "#d4529c"]},
          "legend": {
            "title": null,
            "orient": "none",
            "legendX": 131,
            "legendY": 443,
            "direction": "horizontal",
            "columns": 4,
            "gridAlign": "all",
            "columnPadding": 65,
            "symbolType": "square",
            "symbolSize": 260,
            "symbolOpacity": 1,
            "symbolStrokeWidth": 1.2,
            "labelFont": "Noto Sans CJK KR",
            "labelFontSize": 12,
            "labelColor": "#555555",
            "labelOffset": 5
          }
        }
      }
    }
  ],
  "resolve": {"scale": {"y": "independent"}}
}
